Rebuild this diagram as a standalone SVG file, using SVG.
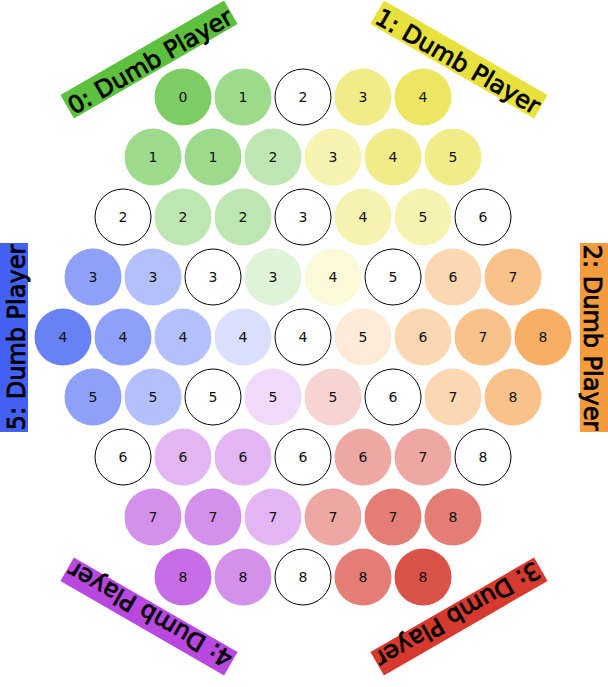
<svg xmlns="http://www.w3.org/2000/svg" width="608" height="687" viewBox="0 0 608 687">
<style>
.w{fill:#fff;stroke:#000;stroke-width:1}
.n{font-family:"DejaVu Sans","Liberation Sans",sans-serif;font-size:14px;fill:#111;text-anchor:middle}
.lb{font-family:"DejaVu Sans","Liberation Sans",sans-serif;font-size:24px;fill:#000;stroke:#000;stroke-width:0.8;text-anchor:middle}
.G{fill:#5DC13F}.Y{fill:#E8E03C}.O{fill:#F49B3E}.R{fill:#D1261A}.P{fill:#B848E0}.B{fill:#4261F3}
.RL{fill:#D63A2E}
.o8{fill-opacity:.8}.o6{fill-opacity:.6}.o4{fill-opacity:.4}.o2{fill-opacity:.2}
</style>
<rect width="608" height="687" fill="#fff"/>
<g id="labels">
<g id="player0" transform="translate(149,59.5) rotate(-30)"><rect class="G" x="-94.5" y="-13.5" width="189" height="27"/><text class="lb" x="0" y="10.5">0: Dumb Player</text></g>
<g id="player1" transform="translate(459,59.5) rotate(30)"><rect class="Y" x="-94.5" y="-13.5" width="189" height="27"/><text class="lb" x="0" y="10.5">1: Dumb Player</text></g>
<g id="player2" transform="translate(594,337.5) rotate(90)"><rect class="O" x="-94.5" y="-14" width="189" height="28"/><text class="lb" x="0" y="10.5">2: Dumb Player</text></g>
<g id="player3" transform="translate(459,616.5) rotate(150)"><rect class="RL" x="-94.5" y="-13.5" width="189" height="27"/><text class="lb" x="0" y="10.5">3: Dumb Player</text></g>
<g id="player4" transform="translate(149,616.5) rotate(210)"><rect class="P" x="-94.5" y="-13.5" width="189" height="27"/><text class="lb" x="0" y="10.5">4: Dumb Player</text></g>
<g id="player5" transform="translate(14,337.5) rotate(-90)"><rect class="B" x="-94.5" y="-14" width="189" height="28"/><text class="lb" x="0" y="10.5">5: Dumb Player</text></g>
</g>
<g id="connectors"/>
<g id="board">
<g id="c0_0"><circle class="G o8" cx="183" cy="97" r="28.5"/><text class="n" x="183" y="102">0</text></g>
<g id="c0_1"><circle class="G o6" cx="243" cy="97" r="28.5"/><text class="n" x="243" y="102">1</text></g>
<g id="c0_2"><circle class="w" cx="303" cy="97" r="28"/><text class="n" x="303" y="102">2</text></g>
<g id="c0_3"><circle class="Y o6" cx="363" cy="97" r="28.5"/><text class="n" x="363" y="102">3</text></g>
<g id="c0_4"><circle class="Y o8" cx="423" cy="97" r="28.5"/><text class="n" x="423" y="102">4</text></g>
<g id="c1_0"><circle class="G o6" cx="153" cy="157" r="28.5"/><text class="n" x="153" y="162">1</text></g>
<g id="c1_1"><circle class="G o6" cx="213" cy="157" r="28.5"/><text class="n" x="213" y="162">1</text></g>
<g id="c1_2"><circle class="G o4" cx="273" cy="157" r="28.5"/><text class="n" x="273" y="162">2</text></g>
<g id="c1_3"><circle class="Y o4" cx="333" cy="157" r="28.5"/><text class="n" x="333" y="162">3</text></g>
<g id="c1_4"><circle class="Y o6" cx="393" cy="157" r="28.5"/><text class="n" x="393" y="162">4</text></g>
<g id="c1_5"><circle class="Y o6" cx="453" cy="157" r="28.5"/><text class="n" x="453" y="162">5</text></g>
<g id="c2_0"><circle class="w" cx="123" cy="217" r="28"/><text class="n" x="123" y="222">2</text></g>
<g id="c2_1"><circle class="G o4" cx="183" cy="217" r="28.5"/><text class="n" x="183" y="222">2</text></g>
<g id="c2_2"><circle class="G o4" cx="243" cy="217" r="28.5"/><text class="n" x="243" y="222">2</text></g>
<g id="c2_3"><circle class="w" cx="303" cy="217" r="28"/><text class="n" x="303" y="222">3</text></g>
<g id="c2_4"><circle class="Y o4" cx="363" cy="217" r="28.5"/><text class="n" x="363" y="222">4</text></g>
<g id="c2_5"><circle class="Y o4" cx="423" cy="217" r="28.5"/><text class="n" x="423" y="222">5</text></g>
<g id="c2_6"><circle class="w" cx="483" cy="217" r="28"/><text class="n" x="483" y="222">6</text></g>
<g id="c3_0"><circle class="B o6" cx="93" cy="277" r="28.5"/><text class="n" x="93" y="282">3</text></g>
<g id="c3_1"><circle class="B o4" cx="153" cy="277" r="28.5"/><text class="n" x="153" y="282">3</text></g>
<g id="c3_2"><circle class="w" cx="213" cy="277" r="28"/><text class="n" x="213" y="282">3</text></g>
<g id="c3_3"><circle class="G o2" cx="273" cy="277" r="28.5"/><text class="n" x="273" y="282">3</text></g>
<g id="c3_4"><circle class="Y o2" cx="333" cy="277" r="28.5"/><text class="n" x="333" y="282">4</text></g>
<g id="c3_5"><circle class="w" cx="393" cy="277" r="28"/><text class="n" x="393" y="282">5</text></g>
<g id="c3_6"><circle class="O o4" cx="453" cy="277" r="28.5"/><text class="n" x="453" y="282">6</text></g>
<g id="c3_7"><circle class="O o6" cx="513" cy="277" r="28.5"/><text class="n" x="513" y="282">7</text></g>
<g id="c4_0"><circle class="B o8" cx="63" cy="337" r="28.5"/><text class="n" x="63" y="342">4</text></g>
<g id="c4_1"><circle class="B o6" cx="123" cy="337" r="28.5"/><text class="n" x="123" y="342">4</text></g>
<g id="c4_2"><circle class="B o4" cx="183" cy="337" r="28.5"/><text class="n" x="183" y="342">4</text></g>
<g id="c4_3"><circle class="B o2" cx="243" cy="337" r="28.5"/><text class="n" x="243" y="342">4</text></g>
<g id="c4_4"><circle class="w" cx="303" cy="337" r="28"/><text class="n" x="303" y="342">4</text></g>
<g id="c4_5"><circle class="O o2" cx="363" cy="337" r="28.5"/><text class="n" x="363" y="342">5</text></g>
<g id="c4_6"><circle class="O o4" cx="423" cy="337" r="28.5"/><text class="n" x="423" y="342">6</text></g>
<g id="c4_7"><circle class="O o6" cx="483" cy="337" r="28.5"/><text class="n" x="483" y="342">7</text></g>
<g id="c4_8"><circle class="O o8" cx="543" cy="337" r="28.5"/><text class="n" x="543" y="342">8</text></g>
<g id="c5_0"><circle class="B o6" cx="93" cy="397" r="28.5"/><text class="n" x="93" y="402">5</text></g>
<g id="c5_1"><circle class="B o4" cx="153" cy="397" r="28.5"/><text class="n" x="153" y="402">5</text></g>
<g id="c5_2"><circle class="w" cx="213" cy="397" r="28"/><text class="n" x="213" y="402">5</text></g>
<g id="c5_3"><circle class="P o2" cx="273" cy="397" r="28.5"/><text class="n" x="273" y="402">5</text></g>
<g id="c5_4"><circle class="R o2" cx="333" cy="397" r="28.5"/><text class="n" x="333" y="402">5</text></g>
<g id="c5_5"><circle class="w" cx="393" cy="397" r="28"/><text class="n" x="393" y="402">6</text></g>
<g id="c5_6"><circle class="O o4" cx="453" cy="397" r="28.5"/><text class="n" x="453" y="402">7</text></g>
<g id="c5_7"><circle class="O o6" cx="513" cy="397" r="28.5"/><text class="n" x="513" y="402">8</text></g>
<g id="c6_0"><circle class="w" cx="123" cy="457" r="28"/><text class="n" x="123" y="462">6</text></g>
<g id="c6_1"><circle class="P o4" cx="183" cy="457" r="28.5"/><text class="n" x="183" y="462">6</text></g>
<g id="c6_2"><circle class="P o4" cx="243" cy="457" r="28.5"/><text class="n" x="243" y="462">6</text></g>
<g id="c6_3"><circle class="w" cx="303" cy="457" r="28"/><text class="n" x="303" y="462">6</text></g>
<g id="c6_4"><circle class="R o4" cx="363" cy="457" r="28.5"/><text class="n" x="363" y="462">6</text></g>
<g id="c6_5"><circle class="R o4" cx="423" cy="457" r="28.5"/><text class="n" x="423" y="462">7</text></g>
<g id="c6_6"><circle class="w" cx="483" cy="457" r="28"/><text class="n" x="483" y="462">8</text></g>
<g id="c7_0"><circle class="P o6" cx="153" cy="517" r="28.5"/><text class="n" x="153" y="522">7</text></g>
<g id="c7_1"><circle class="P o6" cx="213" cy="517" r="28.5"/><text class="n" x="213" y="522">7</text></g>
<g id="c7_2"><circle class="P o4" cx="273" cy="517" r="28.5"/><text class="n" x="273" y="522">7</text></g>
<g id="c7_3"><circle class="R o4" cx="333" cy="517" r="28.5"/><text class="n" x="333" y="522">7</text></g>
<g id="c7_4"><circle class="R o6" cx="393" cy="517" r="28.5"/><text class="n" x="393" y="522">7</text></g>
<g id="c7_5"><circle class="R o6" cx="453" cy="517" r="28.5"/><text class="n" x="453" y="522">8</text></g>
<g id="c8_0"><circle class="P o8" cx="183" cy="577" r="28.5"/><text class="n" x="183" y="582">8</text></g>
<g id="c8_1"><circle class="P o6" cx="243" cy="577" r="28.5"/><text class="n" x="243" y="582">8</text></g>
<g id="c8_2"><circle class="w" cx="303" cy="577" r="28"/><text class="n" x="303" y="582">8</text></g>
<g id="c8_3"><circle class="R o6" cx="363" cy="577" r="28.5"/><text class="n" x="363" y="582">8</text></g>
<g id="c8_4"><circle class="R o8" cx="423" cy="577" r="28.5"/><text class="n" x="423" y="582">8</text></g>
</g>
</svg>
